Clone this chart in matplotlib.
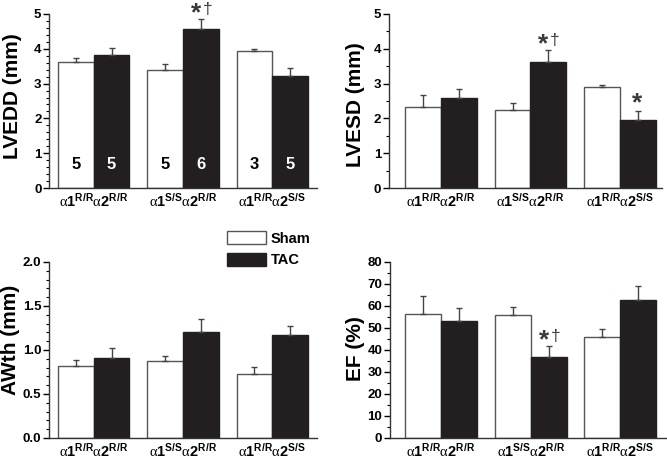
import matplotlib
matplotlib.use("Agg")
import matplotlib.pyplot as plt
from matplotlib.ticker import MultipleLocator, FormatStrFormatter
from matplotlib.patches import Patch

# genotype groups (x axis)
groups = [
    r"$\mathsf{\alpha}\mathbf{1}^{\mathbf{R/R}}\mathsf{\alpha}\mathbf{2}^{\mathbf{R/R}}$",
    r"$\mathsf{\alpha}\mathbf{1}^{\mathbf{S/S}}\mathsf{\alpha}\mathbf{2}^{\mathbf{R/R}}$",
    r"$\mathsf{\alpha}\mathbf{1}^{\mathbf{R/R}}\mathsf{\alpha}\mathbf{2}^{\mathbf{S/S}}$",
]

lvedd_sham = [3.61, 3.39, 3.95]
lvedd_sham_err = [0.14, 0.17, 0.05]
lvedd_tac = [3.81, 4.58, 3.22]
lvedd_tac_err = [0.20, 0.28, 0.22]

lvesd_sham = [2.34, 2.25, 2.89]
lvesd_sham_err = [0.32, 0.18, 0.08]
lvesd_tac = [2.60, 3.63, 1.95]
lvesd_tac_err = [0.24, 0.34, 0.27]

awth_sham = [0.82, 0.88, 0.73]
awth_sham_err = [0.07, 0.05, 0.08]
awth_tac = [0.91, 1.21, 1.17]
awth_tac_err = [0.11, 0.14, 0.10]

ef_sham = [56.2, 55.9, 46.1]
ef_sham_err = [8.3, 3.6, 3.6]
ef_tac = [53.3, 37.0, 62.7]
ef_tac_err = [5.8, 4.7, 6.5]

# animals per group (shown in LVEDD bars)
n_sham = [5, 5, 3]
n_tac = [5, 6, 5]

# significance marks on TAC bars: (group index, star, dagger)
lvedd_marks = [(1, True, True)]
lvesd_marks = [(1, True, True), (2, True, False)]
ef_marks = [(1, True, True)]

BLACK = "#231f20"
EDGE = "#555555"
W = 0.4


def draw_panel(ax, sham, sham_err, tac, tac_err, ylabel, ylim, major, minor, xlim,
               label_xy, marks=()):
    x = range(len(groups))
    xs = [i - W / 2 for i in x]
    xt = [i + W / 2 for i in x]
    ax.bar(xs, sham, W, color="white", edgecolor=EDGE, linewidth=1.0, zorder=2)
    ax.bar(xt, tac, W, color=BLACK, edgecolor=BLACK, linewidth=1.0, zorder=2)
    ax.errorbar(xs, sham, yerr=[[0] * 3, sham_err], fmt="none", ecolor="#444444",
                elinewidth=1.0, capsize=2.3, capthick=1.0, zorder=3)
    ax.errorbar(xt, tac, yerr=[[0] * 3, tac_err], fmt="none", ecolor="#444444",
                elinewidth=1.0, capsize=2.3, capthick=1.0, zorder=3)

    for i, star, dagger in marks:
        top = tac[i] + tac_err[i]
        if star and dagger:
            ax.annotate("*", (xt[i], top), xytext=(-3.6, 4.0), textcoords="offset points",
                        ha="center", va="center", fontsize=19, fontweight="bold",
                        color="#3a3a3a", annotation_clip=False)
            ax.annotate("\u2020", (xt[i], top), xytext=(4.8, 6.9), textcoords="offset points",
                        ha="center", va="center", fontsize=12.5, color="#3a3a3a",
                        annotation_clip=False)
        elif star:
            ax.annotate("*", (xt[i], top), xytext=(-0.5, 5.5), textcoords="offset points",
                        ha="center", va="center", fontsize=19, fontweight="bold",
                        color="#3a3a3a", annotation_clip=False)

    ax.set_xlim(*xlim)
    ax.set_ylim(*ylim)
    ax.set_xticks(list(x))
    ax.set_xticklabels(groups, fontsize=10.5)
    ax.tick_params(axis="x", length=0, pad=3)
    ax.yaxis.set_major_locator(MultipleLocator(major))
    ax.yaxis.set_minor_locator(MultipleLocator(minor))
    ax.tick_params(axis="y", which="major", length=4, width=1, pad=1.5, labelsize=9.5)
    ax.tick_params(axis="y", which="minor", length=2, width=0.8)
    for side in ["top", "right"]:
        ax.spines[side].set_visible(False)
    for side in ["left", "bottom"]:
        ax.spines[side].set_linewidth(1.0)
        ax.spines[side].set_color("#333333")
    ax.set_ylabel(ylabel, fontsize=15, fontweight="bold")
    ax.yaxis.set_label_coords(*label_xy)


def main() -> None:
    plt.rcParams["font.family"] = ["Liberation Sans", "DejaVu Sans"]
    plt.rcParams["mathtext.fontset"] = "custom"
    plt.rcParams["mathtext.rm"] = "Liberation Sans"
    plt.rcParams["mathtext.bf"] = "Liberation Sans:bold"
    plt.rcParams["mathtext.it"] = "Liberation Sans:italic"
    plt.rcParams["mathtext.sf"] = "Liberation Serif"

    fig = plt.figure(figsize=(6.67, 4.59), dpi=100)
    ax1 = fig.add_axes([0.0735, 0.5904, 0.4018, 0.3791])
    ax2 = fig.add_axes([0.5832, 0.5904, 0.4093, 0.3791])
    ax3 = fig.add_axes([0.0735, 0.0458, 0.4018, 0.3834])
    ax4 = fig.add_axes([0.5847, 0.0458, 0.4138, 0.3834])

    draw_panel(ax1, lvedd_sham, lvedd_sham_err, lvedd_tac, lvedd_tac_err, "LVEDD (mm)",
               (0, 5), 1, 0.2, (-0.5, 2.5), (-27 / 268, 0.53), lvedd_marks)
    draw_panel(ax2, lvesd_sham, lvesd_sham_err, lvesd_tac, lvesd_tac_err, "LVESD (mm)",
               (0, 5), 1, 0.5, (-0.58, 2.47), (-24 / 273, 0.48), lvesd_marks)
    draw_panel(ax3, awth_sham, awth_sham_err, awth_tac, awth_tac_err, "AWth (mm)",
               (0, 2.0), 0.5, 0.1, (-0.5, 2.5), (-29 / 268, 0.56))
    draw_panel(ax4, ef_sham, ef_sham_err, ef_tac, ef_tac_err, "EF (%)",
               (0, 80), 10, 5, (-0.57, 2.51), (-25 / 276, 0.51), ef_marks)
    ax3.yaxis.set_major_formatter(FormatStrFormatter("%.1f"))
    for ax in [ax1, ax2, ax3, ax4]:
        for lab in ax.get_yticklabels():
            lab.set_fontweight("bold")

    # group sizes inside the LVEDD bars
    for i in range(len(groups)):
        ax1.text(i - W / 2, 0.55, str(n_sham[i]), ha="center", va="baseline",
                 fontsize=12, fontweight="bold", color="black")
        ax1.text(i + W / 2, 0.55, str(n_tac[i]), ha="center", va="baseline",
                 fontsize=12, fontweight="bold", color="white")

    handles = [Patch(facecolor="white", edgecolor=EDGE, linewidth=1.0, label="Sham"),
               Patch(facecolor=BLACK, edgecolor=BLACK, linewidth=1.0, label="TAC")]
    fig.legend(handles=handles, loc="upper left", bbox_to_anchor=(227 / 667, 1 - 231 / 459),
               frameon=False, borderpad=0, borderaxespad=0, handlelength=2.7,
               handleheight=1.0, handletextpad=0.3, labelspacing=0.5,
               prop={"weight": "bold", "size": 10.5})

    fig.savefig("out.png", dpi=100)


if __name__ == "__main__":
    main()
